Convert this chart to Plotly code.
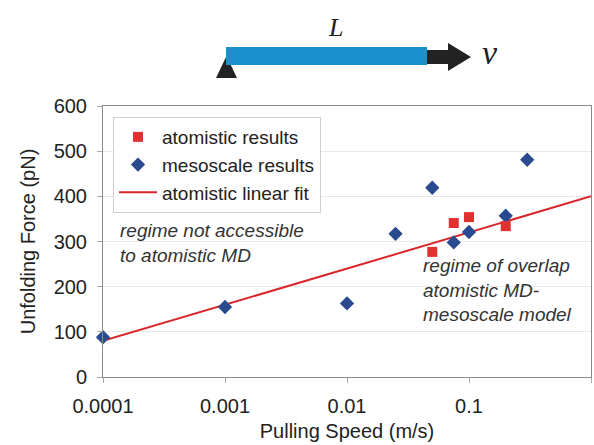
import plotly.graph_objects as go

# ---- data ----
meso_speed = [0.0001, 0.001, 0.01, 0.025, 0.05, 0.075, 0.1, 0.2, 0.3]
meso_force = [88, 155, 163, 317, 419, 298, 321, 357, 481]
atom_speed = [0.05, 0.075, 0.1, 0.2]
atom_force = [277, 341, 354, 334]
fit_speed = [0.0001, 1]
fit_force = [80, 400]
xtick_vals = [0.0001, 0.001, 0.01, 0.1, 1]
xtick_text = ["0.0001", "0.001", "0.01", "0.1", "1"]

W, H = 594, 445
L, R, T, B = 103, 591, 106, 377

def px(x):
    return (x - L) / (R - L)

def py(y):
    return (B - y) / (B - T)

RED = "#e03131"
BLUE = "#2a4a8f"
LINE = "#d9262c"

fig = go.Figure()
fig.add_trace(go.Scatter(x=fit_speed, y=fit_force, mode="lines", name="atomistic linear fit",
                         line=dict(color=LINE, width=2), cliponaxis=False))
fig.add_trace(go.Scatter(x=meso_speed, y=meso_force, mode="markers", name="mesoscale results",
                         marker=dict(symbol="diamond", size=11, color=BLUE), cliponaxis=False))
fig.add_trace(go.Scatter(x=atom_speed, y=atom_force, mode="markers", name="atomistic results",
                         marker=dict(symbol="square", size=10, color=RED), cliponaxis=False))

font = "Liberation Sans, Arial, sans-serif"
fig.update_layout(
    width=W, height=H,
    margin=dict(l=L, r=W - R, t=T, b=H - B, autoexpand=False),
    paper_bgcolor="white", plot_bgcolor="white",
    font=dict(family=font, size=20, color="#222"),
    showlegend=True,
    legend=dict(x=px(113), y=py(117), xanchor="left", yanchor="top",
                bgcolor="white", bordercolor="#cfcfcf", borderwidth=1,
                font=dict(size=19, color="#222"), traceorder="reversed",
                itemwidth=38),
    xaxis=dict(type="log", range=[-4, 0], tickvals=xtick_vals, ticktext=xtick_text,
               showline=True, linecolor="#8a8a8a", linewidth=1, mirror=True,
               ticks="outside", ticklen=5, tickcolor="#aaaaaa", showgrid=False,
               zeroline=False, ticklabelstandoff=6, automargin=False,
               title=dict(text="Pulling Speed (m/s)", standoff=7, font=dict(size=20))),
    yaxis=dict(range=[0, 600], dtick=100,
               showline=True, linecolor="#8a8a8a", linewidth=1, mirror=True,
               ticks="outside", ticklen=5, tickcolor="#aaaaaa",
               showgrid=True, gridcolor="#e8e8e8", zeroline=False, ticklabelstandoff=6,
               automargin=False,
               title=dict(text="Unfolding Force (pN)", standoff=12, font=dict(size=20))),
)

# annotations in plot
fig.add_annotation(x=px(118), y=py(243), xref="paper", yref="paper", xanchor="left", yanchor="middle",
                   text="<i>regime not accessible<br>to atomistic MD</i>", showarrow=False, align="left",
                   font=dict(size=19, color="#333", family=font))
fig.add_annotation(x=px(421), y=py(290), xref="paper", yref="paper", xanchor="left", yanchor="middle",
                   text="<i>regime of overlap<br>atomistic MD-<br>mesoscale model</i>", showarrow=False,
                   align="left", font=dict(size=19, color="#333", family=font))

# top schematic
fig.add_shape(type="path", xref="paper", yref="paper",
              path=f"M {px(216)} {py(78)} L {px(237)} {py(78)} L {px(226.5)} {py(56)} Z",
              fillcolor="#222", line=dict(width=0))
fig.add_shape(type="rect", xref="paper", yref="paper", x0=px(226), x1=px(427), y0=py(65), y1=py(47),
              fillcolor="#1b90cc", line=dict(width=0))
fig.add_shape(type="path", xref="paper", yref="paper",
              path=(f"M {px(427)} {py(50)} L {px(448)} {py(50)} L {px(448)} {py(43)} L {px(471)} {py(57)} "
                    f"L {px(448)} {py(71)} L {px(448)} {py(64)} L {px(427)} {py(64)} Z"),
              fillcolor="#222", line=dict(width=0))
fig.add_annotation(x=px(335), y=py(28), xref="paper", yref="paper", xanchor="center", yanchor="middle",
                   text="<i>L</i>", showarrow=False,
                   font=dict(size=26, color="#222", family="Liberation Serif, Times New Roman, serif"))
fig.add_annotation(x=px(490), y=py(52), xref="paper", yref="paper", xanchor="center", yanchor="middle",
                   text="<i>v</i>", showarrow=False,
                   font=dict(size=34, color="#222", family="Liberation Serif, Times New Roman, serif"))

fig.write_html("out.html", config={"displayModeBar": False},
               post_script="document.body.style.margin='0';document.body.style.padding='0';")
